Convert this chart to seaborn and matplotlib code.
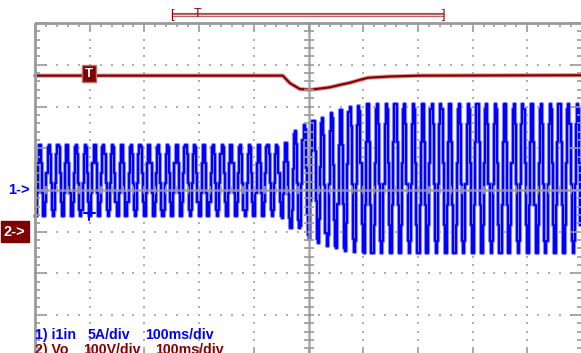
import numpy as np
import pandas as pd
import matplotlib
matplotlib.use("Agg")
import matplotlib.pyplot as plt
from matplotlib.collections import LineCollection
import seaborn as sns

# ---- channel settings -------------------------------------------------------
TIME_PER_DIV = 100          # ms/div
CH1_PER_DIV = 5             # A/div
CH2_PER_DIV = 100           # V/div
CH1_GROUND = 0.0            # divisions
CH2_GROUND = -1.0           # divisions
MAINS_HZ = 60
FIRST_PEAK_MS = -491
SAMPLE_MS = 2.0

# ---- channel 2: output voltage Vo -----------------------------------------
vo_t = [-500, -47, -34, -16, 3, 21, 39, 58, 76, 94, 109, 149, 204, 498]
vo_v = [374, 374, 356, 342, 340, 343, 346, 352, 357, 364, 369, 372, 374, 375]

# ---- channel 1: input current i1in, peaks of each mains cycle (A) -----------
i1_hi = [5.4] * 27 + [5.6, 7.1, 7.8, 8.3, 8.6, 9.2, 9.6, 9.9, 10.1] + [10.3] * 24
i1_lo = [-3.1] * 27 + [-3.4, -4.6, -5.4, -5.9, -6.4, -6.7, -7.0, -7.3, -7.5] + [-7.6] * 24

# ---- screen annotations ------------------------------------------------------
ch1_label = ["1) i1in", "5A/div", "100ms/div"]
ch2_label = ["2) Vo", "100V/div", "100ms/div"]
record_bar = (-250, 248)    # ms
record_trig = -202          # ms
trig_marker_t = -401        # ms

# screen geometry (pixels per unit)
PX_MS = 0.547
PX_DIV = 41.7
X0_PX = 308.5               # pixel column of t = 0

def px_to_ms(px):
    return (px - X0_PX) / PX_MS

sns.set_theme(style="white")
plt.rcParams["font.family"] = ["Liberation Sans", "DejaVu Sans"]

fig = plt.figure(figsize=(5.81, 3.53), dpi=100)
ax = fig.add_axes([0, 0, 1, 1])

GRID = "#9a9a9a"
DOT = "#b0b0b0"

# dotted graticule
xmaj = np.arange(-500, 501, TIME_PER_DIV)
ymaj = np.arange(-4, 5, 1)
ys_minor = np.arange(-4, 4.001, 0.2)
xs_minor = np.arange(-500, 500.1, 20)
for x in xmaj[1:-1]:
    if x == 0:
        continue
    ax.scatter(np.full(len(ys_minor), x), ys_minor, s=1.6, c=DOT, marker="s", lw=0, zorder=1)
for y in ymaj[1:-1]:
    if y == 0:
        continue
    ax.scatter(xs_minor, np.full(len(xs_minor), y), s=1.6, c=DOT, marker="s", lw=0, zorder=1)

# borders and tick marks
segs = []
for y in ys_minor:
    major = abs(y - round(y)) < 1e-6
    L = (12 if major else 5) / PX_MS
    segs.append([(-500, y), (-500 + L, y)])
    segs.append([(500 - L, y), (500, y)])
    segs.append([(-5 / PX_MS, y), (5 / PX_MS, y)])
for x in xs_minor:
    major = abs(x / 100 - round(x / 100)) < 1e-6
    L = (8 if major else 4) / PX_DIV
    segs.append([(x, 4), (x, 4 - L)])
    segs.append([(x, -4), (x, -4 + L)])
    segs.append([(x, -4 / PX_DIV), (x, 4 / PX_DIV)])
ax.add_collection(LineCollection(segs, colors=GRID, linewidths=1.2, zorder=5))
ax.plot([-500, -500], [-4.2, 4], color=GRID, lw=2.0, zorder=5, solid_capstyle="butt")
ax.plot([-500, 500], [4, 4], color=GRID, lw=2.0, zorder=5, solid_capstyle="butt")
ax.plot([0, 0], [-4.2, 4], color=GRID, lw=1.8, zorder=5, alpha=0.85)
ax.plot([-500, 500], [0, 0], color=GRID, lw=1.8, zorder=5, alpha=0.85)

# ---- build traces ------------------------------------------------------------
period = 1000 / MAINS_HZ
t = np.arange(-500, 498.01, SAMPLE_MS)
k = np.clip(np.floor((t - FIRST_PEAK_MS + period / 2) / period).astype(int), 0, len(i1_hi) - 1)
hi = np.asarray(i1_hi)[k]
lo = np.asarray(i1_lo)[k]
shape = np.clip(1.15 * np.cos(2 * np.pi * (t - FIRST_PEAK_MS) / period), -1, 1)
i1 = lo + (hi - lo) * (shape + 1) / 2
ch1 = pd.DataFrame({"t": t, "div": i1 / CH1_PER_DIV + CH1_GROUND})
ch2 = pd.DataFrame({"t": vo_t, "div": np.asarray(vo_v) / CH2_PER_DIV + CH2_GROUND})

sns.lineplot(data=ch2, x="t", y="div", ax=ax, color="#d49a9a", lw=3.0, estimator=None, sort=False, zorder=3)
sns.lineplot(data=ch2, x="t", y="div", ax=ax, color="#8b0000", lw=1.6, estimator=None, sort=False, zorder=3)
sns.lineplot(data=ch1, x="t", y="div", ax=ax, color="#8c8cff", lw=3.0, estimator=None, sort=False,
             drawstyle="steps-mid", zorder=4)
sns.lineplot(data=ch1, x="t", y="div", ax=ax, color="#0000ff", lw=1.5, estimator=None, sort=False,
             drawstyle="steps-mid", zorder=4)
ax.set_xlim(px_to_ms(0), px_to_ms(581))
ax.set_ylim(-3.911, 4.554)
ax.axis("off")

# ---- markers and labels ------------------------------------------------------
ax.text(px_to_ms(8), CH1_GROUND, "1->", color="#0000ff", fontsize=10.5, fontweight="bold",
        ha="left", va="center", zorder=6)
ax.text(px_to_ms(4), CH2_GROUND, "2->", color="white", fontsize=10.5, fontweight="bold",
        ha="left", va="center", zorder=6,
        bbox=dict(boxstyle="square,pad=0.22", fc="#800000", ec="#800000"))
ax.text(trig_marker_t, vo_v[0] / CH2_PER_DIV + CH2_GROUND + 0.05, "T", color="white",
        fontsize=9.5, fontweight="bold", ha="center", va="center", zorder=6,
        bbox=dict(boxstyle="square,pad=0.22", fc="#800000", ec="#c07070", lw=1))
# channel-1 trigger cross
ax.plot([trig_marker_t, trig_marker_t], [-0.40, -0.72], color="#0000ff", lw=1.5, zorder=6)
ax.plot([trig_marker_t - 10, trig_marker_t + 10], [-0.55, -0.55], color="#0000ff", lw=1.5, zorder=6)

# record position bar
bar_y = 4.194
ax.plot(record_bar, [bar_y, bar_y], color="#b04848", lw=3.0, zorder=6, solid_capstyle="butt")
ax.plot(record_bar, [bar_y, bar_y], color="#f2d4d4", lw=1.0, zorder=6, solid_capstyle="butt")
for xb, txt in ((record_bar[0], "["), (record_bar[1], "]")):
    ax.text(xb, bar_y, txt, color="#8b0000", fontsize=9, ha="center", va="center", zorder=7)
ax.text(record_trig, bar_y + 0.02, "T", color="#8b0000", fontsize=9, ha="center", va="center", zorder=7)

# channel readouts
for txt, xp in zip(ch1_label, (35, 88, 145)):
    ax.text(px_to_ms(xp), -3.48, txt, color="#0000ff", fontsize=10.2, fontweight="bold",
            ha="left", va="center", zorder=6)
for txt, xp in zip(ch2_label, (35, 83, 155)):
    ax.text(px_to_ms(xp), -3.83, txt, color="#8b0000", fontsize=10.2, fontweight="bold",
            ha="left", va="center", zorder=6)

fig.savefig("out.png", dpi=100, facecolor="white")
